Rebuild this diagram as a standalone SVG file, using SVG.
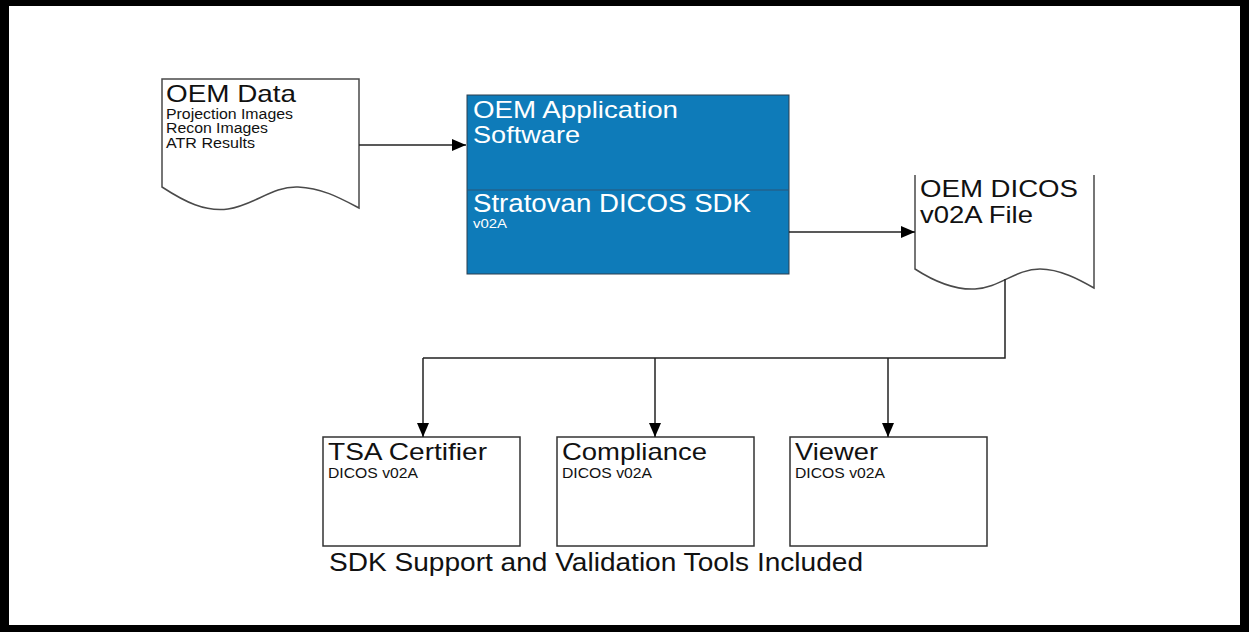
<svg xmlns="http://www.w3.org/2000/svg" width="1249" height="632" viewBox="0 0 1249 632">
  <style>
    .doc { fill: #fff; stroke: #4a4a4a; stroke-width: 1.5; }
    .box { fill: #fff; stroke: #333; stroke-width: 1.5; }
    .conn { fill: none; stroke: #222; stroke-width: 1.5; }
    .t { font-family: "Liberation Sans", Arial, sans-serif; fill: #111; }
    .w { font-family: "Liberation Sans", Arial, sans-serif; fill: #fff; }
  </style>
  <defs>
    <marker id="arr" viewBox="0 0 14 12" refX="14" refY="6" markerWidth="14" markerHeight="12" markerUnits="userSpaceOnUse" orient="auto">
      <path d="M0,0 L14,6 L0,12 Z" fill="#000"/>
    </marker>
  </defs>
  <rect x="0" y="0" width="1249" height="632" fill="#000"/>
  <rect x="9" y="6" width="1231" height="619" fill="#fff"/>

  <g id="oem-data">
    <path class="doc" d="M162,79 L359,79 L359,208 C340,198 322,188 298,187 C272,186 255,205 228,209 C205,212 185,202 162,187 Z"/>
    <text class="t" x="166" y="102" font-size="24" textLength="130" lengthAdjust="spacingAndGlyphs">OEM Data</text>
    <text class="t" x="166" y="119" font-size="14" textLength="127" lengthAdjust="spacingAndGlyphs">Projection Images</text>
    <text class="t" x="166" y="133" font-size="14" textLength="102" lengthAdjust="spacingAndGlyphs">Recon Images</text>
    <text class="t" x="166" y="148" font-size="14" textLength="89" lengthAdjust="spacingAndGlyphs">ATR Results</text>
  </g>

  <g id="oem-app">
    <rect x="467" y="95" width="322" height="179" fill="#0E7BB9" stroke="#2b3f4f" stroke-width="1"/>
    <line x1="467" y1="190" x2="789" y2="190" stroke="#2a5678" stroke-width="1.2"/>
    <text class="w" x="473" y="118" font-size="24" textLength="205" lengthAdjust="spacingAndGlyphs">OEM Application</text>
    <text class="w" x="473" y="143" font-size="24" textLength="107" lengthAdjust="spacingAndGlyphs">Software</text>
    <text class="w" x="473" y="212" font-size="25" textLength="278" lengthAdjust="spacingAndGlyphs">Stratovan DICOS SDK</text>
    <text class="w" x="473" y="228" font-size="12" textLength="34" lengthAdjust="spacingAndGlyphs">v02A</text>
  </g>

  <g id="oem-dicos">
    <path class="doc" d="M915,175 L915,269 C935,282 955,290 975,289 C1000,288 1015,269 1040,269 C1060,269 1080,280 1094,288 L1094,175"/>
    <text class="t" x="920" y="197" font-size="24" textLength="158" lengthAdjust="spacingAndGlyphs">OEM DICOS</text>
    <text class="t" x="920" y="223" font-size="24" textLength="113" lengthAdjust="spacingAndGlyphs">v02A File</text>
  </g>

  <g id="tsa">
    <rect class="box" x="323" y="437" width="197" height="109"/>
    <text class="t" x="328" y="460" font-size="24" textLength="159" lengthAdjust="spacingAndGlyphs">TSA Certifier</text>
    <text class="t" x="328" y="478" font-size="15" textLength="90" lengthAdjust="spacingAndGlyphs">DICOS v02A</text>
  </g>
  <g id="compliance">
    <rect class="box" x="557" y="437" width="197" height="109"/>
    <text class="t" x="562" y="460" font-size="24" textLength="145" lengthAdjust="spacingAndGlyphs">Compliance</text>
    <text class="t" x="562" y="478" font-size="15" textLength="90" lengthAdjust="spacingAndGlyphs">DICOS v02A</text>
  </g>
  <g id="viewer">
    <rect class="box" x="790" y="437" width="197" height="109"/>
    <text class="t" x="795" y="460" font-size="24" textLength="83" lengthAdjust="spacingAndGlyphs">Viewer</text>
    <text class="t" x="795" y="478" font-size="15" textLength="90" lengthAdjust="spacingAndGlyphs">DICOS v02A</text>
  </g>

  <g id="caption">
    <text class="t" x="329" y="571" font-size="26" textLength="534" lengthAdjust="spacingAndGlyphs">SDK Support and Validation Tools Included</text>
  </g>

  <g id="connectors">
    <line class="conn" x1="359" y1="145" x2="466" y2="145" marker-end="url(#arr)"/>
    <line class="conn" x1="789" y1="232" x2="915" y2="232" marker-end="url(#arr)"/>
    <polyline class="conn" points="1005,279 1005,358 423,358"/>
    <line class="conn" x1="423" y1="358" x2="423" y2="437" marker-end="url(#arr)"/>
    <line class="conn" x1="655" y1="358" x2="655" y2="437" marker-end="url(#arr)"/>
    <line class="conn" x1="888" y1="358" x2="888" y2="437" marker-end="url(#arr)"/>
  </g>
</svg>
